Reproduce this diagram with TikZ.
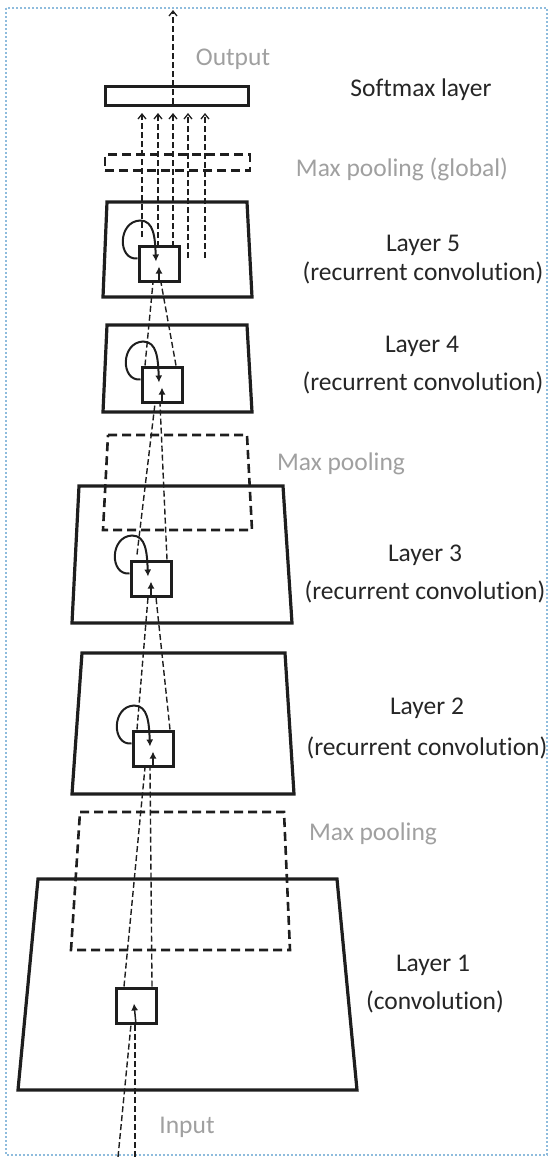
\documentclass[tikz,border=0pt]{standalone}
\usepackage{fontspec}
\setmainfont{Carlito}[Ligatures=NoCommon]
\usetikzlibrary{arrows.meta,calc}
\definecolor{ink}{HTML}{1E1E1E}
\definecolor{txt}{HTML}{262626}
\definecolor{faint}{HTML}{A0A0A0}
\definecolor{frame}{HTML}{8FBCDD}
\tikzset{
  lbl/.style={font=\fontsize{25.5}{30}\selectfont, text=txt, inner sep=0pt, anchor=base},
  glbl/.style={lbl, text=faint},
  layerbox/.style={draw=ink, line width=3.2pt, line join=miter},
  poolbox/.style={draw=ink, line width=2.6pt, dash pattern=on 9pt off 5pt},
  rbox/.style={draw=ink, line width=3pt, minimum width=40pt, minimum height=35pt, inner sep=0pt},
  ff/.style={draw=ink, line width=1.4pt, dash pattern=on 6pt off 3pt},
  upar/.style={ff, -{Straight Barb[length=5pt,width=8pt,line width=1.3pt]}},
  tipar/.style={draw=ink, line width=1.5pt, -{Latex[length=7pt,width=7pt]}},
}
\begin{document}
\begin{tikzpicture}[x=1pt,y=-1pt]
\useasboundingbox (0,0) rectangle (550,1157);
% frame
\draw[frame, line width=2pt, dotted] (6,8) rectangle (547,1155);

% layer trapezoids
\draw[layerbox] (107,202) -- (247,202) -- (252,297) -- (103,297) -- cycle;
\draw[layerbox] (107,325) -- (247,325) -- (252,412) -- (103,412) -- cycle;
\draw[layerbox] (79,486) -- (283,486) -- (292,623) -- (72,623) -- cycle;
\draw[layerbox] (82,653) -- (285,653) -- (294,794) -- (72,794) -- cycle;
\draw[layerbox] (38,879) -- (337,879) -- (357,1090) -- (18,1090) -- cycle;
% pooling regions
\draw[poolbox] (108,435) -- (247,435) -- (252,530) -- (103,530) -- cycle;
\draw[poolbox] (80,812) -- (284,812) -- (290,950) -- (71,950) -- cycle;

% softmax and global pool
\node[draw=ink, line width=3pt, minimum width=143pt, minimum height=19pt, inner sep=0pt] (sm) at (176.5,95.5) {};
\node[draw=ink, line width=2.4pt, dash pattern=on 9pt off 5pt, minimum width=145pt, minimum height=16pt, inner sep=0pt] (gp) at (177.5,162.5) {};

% recurrent boxes
\node[rbox] (b5) at (159,263.5) {};
\node[rbox] (b4) at (162,384.5) {};
\node[rbox] (b3) at (151,578.5) {};
\node[rbox] (b2) at (153,748.5) {};
\node[rbox] (b1) at (136,1005.5) {};

% recurrent loops
\foreach \b in {b5,b4,b3,b2}{
  \draw[ink, line width=2pt, -{Latex[length=7pt,width=7pt]}]
    ($(\b.west)+(0,-5)$) .. controls ($(\b.west)+(-20,-3)$) and ($(\b.west)+(-20,-42)$) ..
    ($(\b.center)+(-19,-43)$) .. controls ($(\b.center)+(-5,-43)$) and ($(\b.center)+(-4,-26)$) ..
    ($(\b.center)+(-3,-2)$);
  \draw[tipar] (\b.south) -- ($(\b.center)+(0,3)$);
}
\draw[tipar] (b1.south) -- ($(b1.center)+(-2,-2)$);

% feed-forward receptive field lines
\coordinate (in1) at (118,1157);
\coordinate (in2) at (135,1157);
\draw[ff] (in1) -- ($(b1.south)+(-5,0)$);
\draw[ff] (in2) -- ($(b1.south)+(-1,0)$);
\draw[ff] ($(b1.north)+(-12,0)$) -- ($(b2.south)+(-8,0)$);
\draw[ff] ($(b1.north)+(16,0)$) -- ($(b2.south)+(-3,0)$);
\draw[ff] ($(b2.north)+(-16,0)$) -- ($(b3.south)+(-3,0)$);
\draw[ff] ($(b2.north)+(17,0)$) -- ($(b3.south)+(5,0)$);
\draw[ff] ($(b3.north)+(-14,-5)$) -- ($(b4.south)+(-7,0)$);
\draw[ff] ($(b3.north)+(16,0)$) -- ($(b4.south)+(-2,0)$);
\draw[ff] ($(b4.north)+(-17,0)$) -- ($(b5.south)+(-6,0)$);
\draw[ff] ($(b4.north)+(14,0)$) -- ($(b5.south)+(2,0)$);

% lines to softmax
\coordinate (t1) at (142,237);
\coordinate (t2) at (158,247);
\coordinate (t3) at (173,247);
\coordinate (t4) at (188,258);
\coordinate (t5) at (205,258);
\foreach \i/\x in {1/142,2/158,3/173,4/188,5/205}{
  \draw[upar] (t\i) -- (\x,113);
}
% output
\coordinate (outbase) at (173,104);
\coordinate (outtip) at (173,10);
\draw[upar] (outbase) -- (outtip);

% labels
\node[glbl] (lout) at (233,65) {Output};
\node[lbl] (lsm) at (421,96) {Softmax layer};
\node[glbl] (lgp) at (402,176) {Max pooling (global)};
\node[lbl] (l5a) at (423,251) {Layer 5};
\node[lbl] (l5b) at (423,280) {(recurrent convolution)};
\node[lbl] (l4a) at (422,352) {Layer 4};
\node[lbl] (l4b) at (423,390) {(recurrent convolution)};
\node[glbl] (lmp1) at (341,470) {Max pooling};
\node[lbl] (l3a) at (425,561) {Layer 3};
\node[lbl] (l3b) at (425,599) {(recurrent convolution)};
\node[lbl] (l2a) at (427,714) {Layer 2};
\node[lbl] (l2b) at (427,755) {(recurrent convolution)};
\node[glbl] (lmp2) at (373,840) {Max pooling};
\node[lbl] (l1a) at (433,971) {Layer 1};
\node[lbl] (l1b) at (435,1009) {(convolution)};
\node[glbl] (lin) at (187,1133) {Input};
\end{tikzpicture}
\end{document}
